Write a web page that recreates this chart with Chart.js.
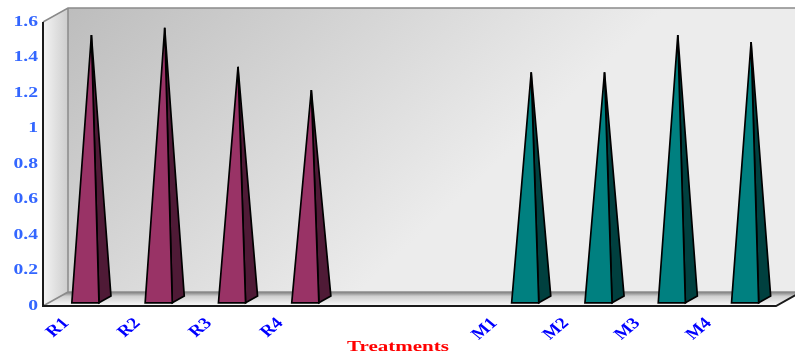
<!DOCTYPE html>
<html>
<head>
<meta charset="utf-8">
<script src="https://cdn.jsdelivr.net/npm/chart.js@4/dist/chart.umd.min.js"></script>
<style>
  html, body { margin: 0; padding: 0; background: #ffffff; }
  #wrap { width: 795px; height: 358px; }
</style>
</head>
<body>
<div id="wrap"><canvas id="c" width="795" height="358"></canvas></div>
<script>
// ---- data ----
const categories = ['R1', 'R2', 'R3', 'R4', '', '', 'M1', 'M2', 'M3', 'M4'];
const rValues = [1.49, 1.53, 1.31, 1.18, null, null, null, null, null, null];
const mValues = [null, null, null, null, null, null, 1.28, 1.28, 1.49, 1.45];
const yTickLabels = ['0', '0.2', '0.4', '0.6', '0.8', '1', '1.2', '1.4', '1.6'];
const xTitle = 'Treatments';

// ---- style ----
const DEPTH = { dx: 25, dy: -14 };
const SERIF = '"Liberation Serif", "Times New Roman", serif';
const faceColors = [
  { front: '#993366', side: '#4f1a36' },
  { front: '#008080', side: '#00403f' }
];

const walls3d = {
  id: 'walls3d',
  beforeDraw(chart) {
    const ctx = chart.ctx, a = chart.chartArea;
    const { dx, dy } = DEPTH;
    ctx.save();
    const g = ctx.createLinearGradient(a.left + dx, a.top + dy, a.left + 300, a.bottom);
    g.addColorStop(0, '#bdbdbd');
    g.addColorStop(1, '#ececec');
    ctx.fillStyle = g;
    ctx.fillRect(a.left + dx, a.top + dy, a.right - a.left, a.bottom - a.top);
    const gl = ctx.createLinearGradient(a.left, 0, a.left + dx, 0);
    gl.addColorStop(0, '#f4f4f4');
    gl.addColorStop(1, '#cdcdcd');
    ctx.fillStyle = gl;
    ctx.beginPath();
    ctx.moveTo(a.left, a.top);
    ctx.lineTo(a.left + dx, a.top + dy);
    ctx.lineTo(a.left + dx, a.bottom + dy);
    ctx.lineTo(a.left, a.bottom);
    ctx.closePath();
    ctx.fill();
    const gf = ctx.createLinearGradient(0, a.bottom + dy, 0, a.bottom);
    gf.addColorStop(0, '#7c7c7c');
    gf.addColorStop(0.3, '#cfcfcf');
    gf.addColorStop(1, '#fbfbfb');
    ctx.fillStyle = gf;
    ctx.beginPath();
    ctx.moveTo(a.left, a.bottom);
    ctx.lineTo(a.right, a.bottom);
    ctx.lineTo(a.right + dx, a.bottom + dy);
    ctx.lineTo(a.left + dx, a.bottom + dy);
    ctx.closePath();
    ctx.fill();
    ctx.strokeStyle = '#8a8a8a';
    ctx.lineWidth = 1.5;
    ctx.beginPath();
    ctx.moveTo(a.left, a.top);
    ctx.lineTo(a.left + dx, a.top + dy);
    ctx.lineTo(a.right + dx, a.top + dy);
    ctx.moveTo(a.left + dx, a.top + dy);
    ctx.lineTo(a.left + dx, a.bottom + dy);
    ctx.lineTo(a.right + dx, a.bottom + dy);
    ctx.moveTo(a.left + dx, a.bottom + dy);
    ctx.lineTo(a.left, a.bottom);
    ctx.stroke();
    ctx.restore();
  },
  afterDatasetsDraw(chart) {
    const ctx = chart.ctx;
    const { dx, dy } = DEPTH;
    const f1 = 0.23, f2 = 0.71, fm = 0.47;
    ctx.save();
    ctx.lineJoin = 'miter';
    ctx.strokeStyle = '#000000';
    ctx.lineWidth = 1.7;
    chart.data.datasets.forEach((ds, d) => {
      const meta = chart.getDatasetMeta(d);
      meta.data.forEach((bar, i) => {
        const v = ds.data[i];
        if (v === null || v === undefined) return;
        const p = bar.getProps(['x', 'y', 'base', 'width'], true);
        const hw = p.width / 2;
        const apex = [p.x + fm * dx, p.y + fm * dy];
        const fl = [p.x - hw + f1 * dx, p.base + f1 * dy];
        const fr = [p.x + hw + f1 * dx, p.base + f1 * dy];
        const br = [p.x + hw + f2 * dx, p.base + f2 * dy];
        ctx.fillStyle = faceColors[d].side;
        ctx.beginPath();
        ctx.moveTo(fr[0], fr[1]);
        ctx.lineTo(br[0], br[1]);
        ctx.lineTo(apex[0], apex[1]);
        ctx.closePath();
        ctx.fill();
        ctx.stroke();
        ctx.fillStyle = faceColors[d].front;
        ctx.beginPath();
        ctx.moveTo(fl[0], fl[1]);
        ctx.lineTo(fr[0], fr[1]);
        ctx.lineTo(apex[0], apex[1]);
        ctx.closePath();
        ctx.fill();
        ctx.stroke();
      });
    });
    ctx.restore();
  },
  afterDraw(chart) {
    const ctx = chart.ctx, a = chart.chartArea;
    const { dx, dy } = DEPTH;
    ctx.save();
    ctx.strokeStyle = '#1a1a1a';
    ctx.lineWidth = 2;
    ctx.beginPath();
    ctx.moveTo(a.left, a.top);
    ctx.lineTo(a.left, a.bottom);
    ctx.lineTo(a.right, a.bottom);
    ctx.lineTo(a.right + dx, a.bottom + dy);
    ctx.stroke();

    const ys = chart.scales.y;
    ctx.fillStyle = '#3366ff';
    ctx.font = 'bold 14px ' + SERIF;
    ctx.textAlign = 'right';
    ctx.textBaseline = 'middle';
    ys.ticks.forEach((t, i) => {
      const y = ys.getPixelForTick(i);
      ctx.save();
      ctx.translate(a.left - 5, y);
      ctx.scale(1.4, 1);
      ctx.fillText(yTickLabels[i], 0, 0);
      ctx.restore();
    });

    const xs = chart.scales.x;
    ctx.fillStyle = '#0000ff';
    ctx.font = 'bold 16px ' + SERIF;
    ctx.textAlign = 'right';
    ctx.textBaseline = 'middle';
    xs.ticks.forEach((t, i) => {
      const label = categories[i];
      if (!label) return;
      const x = xs.getPixelForTick(i) - 13.5 - 1.9 * i;
      ctx.save();
      ctx.translate(x, a.bottom + 15);
      ctx.scale(1.2, 1);
      ctx.rotate(-Math.PI / 4);
      ctx.fillText(label, 0, 0);
      ctx.restore();
    });

    ctx.fillStyle = '#ff0000';
    ctx.font = 'bold 14px ' + SERIF;
    ctx.textAlign = 'center';
    ctx.textBaseline = 'middle';
    const w = ctx.measureText(xTitle).width;
    ctx.save();
    ctx.translate(398, 347);
    ctx.scale(102 / w, 1);
    ctx.fillText(xTitle, 0, 0);
    ctx.restore();
    ctx.restore();
  }
};

new Chart(document.getElementById('c'), {
  type: 'bar',
  data: {
    labels: categories,
    datasets: [
      { label: 'R', data: rValues, grouped: false, backgroundColor: 'rgba(0,0,0,0)', borderWidth: 0,
        barPercentage: 0.37, categoryPercentage: 1 },
      { label: 'M', data: mValues, grouped: false, backgroundColor: 'rgba(0,0,0,0)', borderWidth: 0,
        barPercentage: 0.37, categoryPercentage: 1 }
    ]
  },
  options: {
    responsive: false,
    animation: false,
    devicePixelRatio: 1,
    layout: { padding: { top: 22, right: 19, left: 0, bottom: 0 } },
    plugins: { legend: { display: false }, tooltip: { enabled: false }, title: { display: false } },
    scales: {
      x: {
        type: 'category',
        offset: true,
        grid: { display: false },
        border: { display: false },
        ticks: { display: false },
        afterFit(s) { s.height = 52; }
      },
      y: {
        min: 0,
        max: 1.6,
        grid: { display: false },
        border: { display: false },
        ticks: { display: false, stepSize: 0.2 },
        afterFit(s) { s.width = 43; }
      }
    }
  },
  plugins: [walls3d]
});
</script>
</body>
</html>
